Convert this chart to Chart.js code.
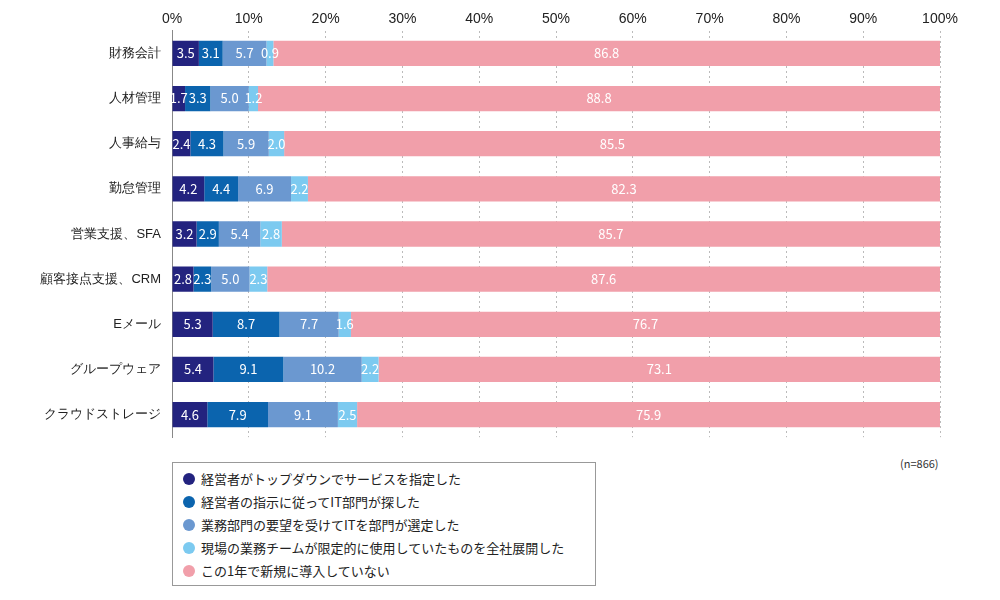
<!DOCTYPE html>
<html>
<head>
<meta charset="utf-8">
<script src="https://cdn.jsdelivr.net/npm/chart.js@4"></script>
<style>
body { margin: 0; background: #fff; font-family: "Noto Sans CJK JP", sans-serif; }
#wrap { position: relative; width: 1000px; height: 448px; }
#nota { position: absolute; left: 900px; top: 455px; font-size: 11px; color: #333; }
#leyenda { position: absolute; left: 172px; top: 462px; width: 424px; height: 124px; border: 1px solid #999; box-sizing: border-box; padding: 4px 10px; font-size: 13px; color: #222; }
#leyenda div { height: 23px; line-height: 23px; }
#leyenda span { display: inline-block; width: 12px; height: 12px; border-radius: 50%; vertical-align: -1px; margin-right: 6px; }
</style>
</head>
<body>
<div id="wrap"><canvas id="grafica"></canvas></div>
<div id="nota">(n=866)</div>
<div id="leyenda"></div>
<script>
let labels = ['財務会計', '人材管理', '人事給与', '勤怠管理', '営業支援、SFA', '顧客接点支援、CRM', 'Eメール', 'グループウェア', 'クラウドストレージ'];

let series = [
    { label: '経営者がトップダウンでサービスを指定した', color: '#23237f', data: [3.5, 1.7, 2.4, 4.2, 3.2, 2.8, 5.3, 5.4, 4.6] },
    { label: '経営者の指示に従ってIT部門が探した', color: '#0b64ae', data: [3.1, 3.3, 4.3, 4.4, 2.9, 2.3, 8.7, 9.1, 7.9] },
    { label: '業務部門の要望を受けてITを部門が選定した', color: '#6b98d0', data: [5.7, 5.0, 5.9, 6.9, 5.4, 5.0, 7.7, 10.2, 9.1] },
    { label: '現場の業務チームが限定的に使用していたものを全社展開した', color: '#7ccaf0', data: [0.9, 1.2, 2.0, 2.2, 2.8, 2.3, 1.6, 2.2, 2.5] },
    { label: 'この1年で新規に導入していない', color: '#f19faa', data: [86.8, 88.8, 85.5, 82.3, 85.7, 87.6, 76.7, 73.1, 75.9] }
];

let datasets = series.map(function(s) {
    return { label: s.label, data: s.data, backgroundColor: s.color, borderWidth: 0, barPercentage: 0.56, categoryPercentage: 1 };
});

let leyenda = document.getElementById('leyenda');
series.forEach(function(s) {
    leyenda.innerHTML += '<div><span style="background:' + s.color + '"></span>' + s.label + '</div>';
});

// etiquetas de valor dentro de las barras
const etiquetas = {
    id: 'etiquetas',
    afterDatasetsDraw(chart) {
        let ctx = chart.ctx;
        ctx.save();
        ctx.font = '13px "Noto Sans CJK JP", sans-serif';
        ctx.fillStyle = '#fff';
        ctx.textAlign = 'center';
        ctx.textBaseline = 'middle';
        chart.data.datasets.forEach(function(ds, i) {
            chart.getDatasetMeta(i).data.forEach(function(bar, j) {
                ctx.fillText(ds.data[j].toFixed(1), (bar.x + bar.base) / 2, bar.y);
            });
        });
        ctx.restore();
    }
};

new Chart(document.getElementById('grafica'), {
    type: 'bar',
    data: { labels: labels, datasets: datasets },
    options: {
        indexAxis: 'y',
        responsive: true,
        maintainAspectRatio: false,
        animation: false,
        layout: { padding: { left: 0, right: 60, top: 8, bottom: 10 } },
        plugins: { legend: { display: false }, tooltip: { enabled: false } },
        scales: {
            x: {
                stacked: true, position: 'top', min: 0, max: 100,
                ticks: { stepSize: 10, callback: v => v + '%', color: '#222', font: { size: 14 } },
                grid: { color: '#bbb', drawTicks: false, tickBorderDash: [2, 3] },
                border: { display: false, dash: [2, 3] }
            },
            y: {
                stacked: true,
                afterFit: function(axis) { axis.width = 172; },
                ticks: { color: '#222', font: { size: 13 } },
                grid: { display: false },
                border: { color: '#888' }
            }
        }
    },
    plugins: [etiquetas]
});
</script>
</body>
</html>
